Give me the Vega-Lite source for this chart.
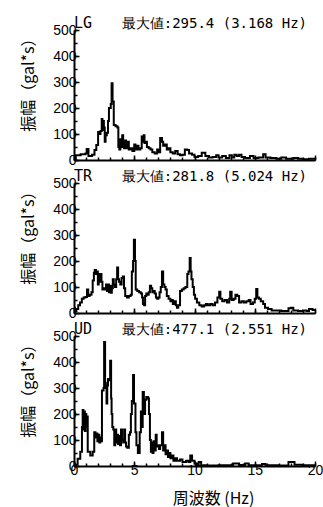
{
  "$schema": "https://vega.github.io/schema/vega-lite/v6.json",
  "background": "white",
  "padding": {"left": 20, "top": 16, "right": 5, "bottom": 5},
  "spacing": 23,
  "bounds": "flush",
  "config": {
    "view": {"stroke": null},
    "axis": {"grid": false, "domainColor": "black", "domainWidth": 2, "tickColor": "black", "tickWidth": 1.5, "labelColor": "black", "labelFont": "Liberation Sans", "labelFontSize": 14, "titleColor": "black", "titleFont": "Noto Sans CJK JP", "titleFontSize": 16, "titleFontWeight": "normal", "labelFlush": false, "labelOverlap": false},
    "text": {"fill": "black", "strokeWidth": 0}
  },
  "datasets": {
    "LG": [
      {"f":0,"a":3},{"f":0.15,"a":18},{"f":0.55,"a":22},{"f":0.95,"a":25},{"f":1.05,"a":42},{"f":1.2,"a":15},{"f":1.5,"a":20},{"f":1.7,"a":38},{"f":1.85,"a":58},{"f":2.0,"a":108},{"f":2.1,"a":100},{"f":2.2,"a":112},{"f":2.3,"a":158},{"f":2.36,"a":115},{"f":2.42,"a":150},{"f":2.48,"a":125},{"f":2.55,"a":70},{"f":2.62,"a":95},{"f":2.72,"a":105},{"f":2.82,"a":150},{"f":2.9,"a":200},{"f":3.05,"a":215},{"f":3.12,"a":295},{"f":3.2,"a":225},{"f":3.3,"a":135},{"f":3.45,"a":130},{"f":3.6,"a":125},{"f":3.68,"a":50},{"f":3.76,"a":40},{"f":3.85,"a":80},{"f":3.92,"a":50},{"f":4.0,"a":95},{"f":4.08,"a":60},{"f":4.15,"a":45},{"f":4.25,"a":75},{"f":4.32,"a":45},{"f":4.45,"a":70},{"f":4.55,"a":40},{"f":4.7,"a":45},{"f":4.85,"a":35},{"f":5.0,"a":60},{"f":5.1,"a":40},{"f":5.25,"a":55},{"f":5.35,"a":40},{"f":5.5,"a":45},{"f":5.62,"a":90},{"f":5.7,"a":70},{"f":5.78,"a":95},{"f":5.85,"a":65},{"f":5.95,"a":70},{"f":6.05,"a":50},{"f":6.2,"a":45},{"f":6.35,"a":40},{"f":6.5,"a":30},{"f":6.7,"a":25},{"f":6.9,"a":40},{"f":7.05,"a":30},{"f":7.15,"a":85},{"f":7.3,"a":70},{"f":7.4,"a":55},{"f":7.55,"a":60},{"f":7.7,"a":40},{"f":7.85,"a":45},{"f":8.0,"a":30},{"f":8.2,"a":25},{"f":8.4,"a":35},{"f":8.6,"a":22},{"f":8.8,"a":18},{"f":9.0,"a":20},{"f":9.2,"a":40},{"f":9.4,"a":38},{"f":9.55,"a":25},{"f":9.8,"a":20},{"f":10.0,"a":12},{"f":10.3,"a":15},{"f":10.6,"a":28},{"f":10.9,"a":15},{"f":11.2,"a":10},{"f":11.5,"a":12},{"f":11.8,"a":18},{"f":12.0,"a":10},{"f":12.3,"a":15},{"f":12.6,"a":8},{"f":12.9,"a":18},{"f":13.1,"a":10},{"f":13.3,"a":20},{"f":13.5,"a":15},{"f":13.7,"a":20},{"f":13.9,"a":12},{"f":14.2,"a":8},{"f":14.6,"a":15},{"f":14.9,"a":8},{"f":15.3,"a":10},{"f":15.7,"a":22},{"f":15.9,"a":10},{"f":16.3,"a":8},{"f":16.8,"a":5},{"f":17.2,"a":10},{"f":17.6,"a":5},{"f":18.2,"a":8},{"f":18.6,"a":5},{"f":19.0,"a":3},{"f":19.5,"a":5},{"f":20,"a":3}
    ],
    "TR": [
      {"f":0,"a":20},{"f":0.08,"a":8},{"f":0.2,"a":15},{"f":0.35,"a":30},{"f":0.5,"a":40},{"f":0.65,"a":55},{"f":0.8,"a":60},{"f":0.95,"a":62},{"f":1.08,"a":90},{"f":1.18,"a":65},{"f":1.3,"a":70},{"f":1.45,"a":80},{"f":1.55,"a":125},{"f":1.65,"a":155},{"f":1.72,"a":165},{"f":1.82,"a":150},{"f":1.9,"a":160},{"f":1.98,"a":110},{"f":2.05,"a":150},{"f":2.12,"a":120},{"f":2.2,"a":150},{"f":2.28,"a":120},{"f":2.36,"a":90},{"f":2.46,"a":95},{"f":2.56,"a":90},{"f":2.66,"a":110},{"f":2.74,"a":85},{"f":2.82,"a":110},{"f":2.9,"a":80},{"f":2.98,"a":105},{"f":3.06,"a":78},{"f":3.14,"a":95},{"f":3.22,"a":130},{"f":3.3,"a":110},{"f":3.4,"a":100},{"f":3.5,"a":130},{"f":3.58,"a":175},{"f":3.66,"a":130},{"f":3.74,"a":120},{"f":3.84,"a":110},{"f":3.95,"a":135},{"f":4.05,"a":140},{"f":4.15,"a":95},{"f":4.25,"a":65},{"f":4.4,"a":60},{"f":4.55,"a":65},{"f":4.7,"a":70},{"f":4.8,"a":160},{"f":4.9,"a":200},{"f":4.97,"a":282},{"f":5.06,"a":200},{"f":5.12,"a":90},{"f":5.25,"a":85},{"f":5.4,"a":80},{"f":5.55,"a":75},{"f":5.65,"a":60},{"f":5.72,"a":35},{"f":5.82,"a":30},{"f":5.9,"a":65},{"f":6.0,"a":75},{"f":6.1,"a":70},{"f":6.2,"a":80},{"f":6.3,"a":105},{"f":6.4,"a":95},{"f":6.5,"a":80},{"f":6.6,"a":85},{"f":6.7,"a":75},{"f":6.8,"a":60},{"f":6.9,"a":55},{"f":7.0,"a":60},{"f":7.1,"a":80},{"f":7.2,"a":100},{"f":7.3,"a":160},{"f":7.4,"a":110},{"f":7.5,"a":100},{"f":7.6,"a":90},{"f":7.7,"a":65},{"f":7.85,"a":55},{"f":8.0,"a":45},{"f":8.1,"a":50},{"f":8.2,"a":35},{"f":8.35,"a":45},{"f":8.45,"a":30},{"f":8.55,"a":20},{"f":8.65,"a":30},{"f":8.8,"a":85},{"f":8.95,"a":90},{"f":9.1,"a":95},{"f":9.25,"a":100},{"f":9.4,"a":150},{"f":9.5,"a":160},{"f":9.6,"a":212},{"f":9.68,"a":160},{"f":9.75,"a":130},{"f":9.85,"a":100},{"f":9.95,"a":70},{"f":10.05,"a":55},{"f":10.2,"a":40},{"f":10.4,"a":30},{"f":10.6,"a":25},{"f":10.8,"a":30},{"f":10.95,"a":35},{"f":11.1,"a":30},{"f":11.3,"a":35},{"f":11.5,"a":30},{"f":11.7,"a":40},{"f":11.9,"a":60},{"f":12.05,"a":82},{"f":12.15,"a":55},{"f":12.3,"a":45},{"f":12.5,"a":50},{"f":12.7,"a":40},{"f":12.88,"a":55},{"f":12.96,"a":82},{"f":13.08,"a":50},{"f":13.25,"a":55},{"f":13.4,"a":70},{"f":13.55,"a":65},{"f":13.7,"a":40},{"f":13.9,"a":45},{"f":14.1,"a":40},{"f":14.3,"a":45},{"f":14.5,"a":50},{"f":14.65,"a":35},{"f":14.85,"a":40},{"f":15.0,"a":55},{"f":15.12,"a":92},{"f":15.22,"a":60},{"f":15.35,"a":55},{"f":15.5,"a":45},{"f":15.7,"a":35},{"f":15.85,"a":20},{"f":16.1,"a":15},{"f":16.4,"a":10},{"f":16.9,"a":10},{"f":17.2,"a":8},{"f":17.5,"a":8},{"f":17.8,"a":18},{"f":18.0,"a":20},{"f":18.2,"a":10},{"f":18.6,"a":8},{"f":19.0,"a":10},{"f":19.3,"a":8},{"f":19.5,"a":15},{"f":19.8,"a":12},{"f":20,"a":12}
    ],
    "UD": [
      {"f":0,"a":5},{"f":0.3,"a":28},{"f":0.52,"a":55},{"f":0.66,"a":150},{"f":0.72,"a":215},{"f":0.78,"a":140},{"f":0.84,"a":210},{"f":0.9,"a":135},{"f":0.96,"a":200},{"f":1.02,"a":150},{"f":1.08,"a":190},{"f":1.14,"a":55},{"f":1.35,"a":40},{"f":1.55,"a":55},{"f":1.68,"a":130},{"f":1.78,"a":110},{"f":1.86,"a":125},{"f":1.94,"a":95},{"f":2.02,"a":120},{"f":2.1,"a":90},{"f":2.18,"a":110},{"f":2.26,"a":95},{"f":2.32,"a":290},{"f":2.45,"a":300},{"f":2.5,"a":477},{"f":2.58,"a":320},{"f":2.64,"a":300},{"f":2.7,"a":240},{"f":2.76,"a":310},{"f":2.82,"a":335},{"f":2.94,"a":330},{"f":3.0,"a":405},{"f":3.08,"a":260},{"f":3.12,"a":200},{"f":3.18,"a":150},{"f":3.26,"a":140},{"f":3.34,"a":80},{"f":3.42,"a":140},{"f":3.5,"a":90},{"f":3.58,"a":120},{"f":3.66,"a":85},{"f":3.74,"a":115},{"f":3.82,"a":80},{"f":3.9,"a":140},{"f":3.98,"a":100},{"f":4.08,"a":90},{"f":4.16,"a":140},{"f":4.24,"a":90},{"f":4.32,"a":75},{"f":4.42,"a":70},{"f":4.55,"a":120},{"f":4.65,"a":130},{"f":4.72,"a":200},{"f":4.8,"a":250},{"f":4.9,"a":350},{"f":4.98,"a":240},{"f":5.1,"a":130},{"f":5.18,"a":80},{"f":5.3,"a":50},{"f":5.45,"a":130},{"f":5.55,"a":210},{"f":5.62,"a":150},{"f":5.7,"a":285},{"f":5.8,"a":200},{"f":5.9,"a":255},{"f":6.0,"a":265},{"f":6.15,"a":260},{"f":6.22,"a":200},{"f":6.3,"a":100},{"f":6.38,"a":55},{"f":6.45,"a":90},{"f":6.52,"a":50},{"f":6.6,"a":95},{"f":6.68,"a":60},{"f":6.78,"a":120},{"f":6.86,"a":75},{"f":6.95,"a":80},{"f":7.05,"a":65},{"f":7.15,"a":80},{"f":7.3,"a":130},{"f":7.4,"a":60},{"f":7.5,"a":80},{"f":7.6,"a":45},{"f":7.7,"a":60},{"f":7.8,"a":35},{"f":7.9,"a":50},{"f":8.0,"a":30},{"f":8.1,"a":40},{"f":8.25,"a":20},{"f":8.4,"a":30},{"f":8.55,"a":20},{"f":8.8,"a":25},{"f":9.0,"a":15},{"f":9.3,"a":20},{"f":9.5,"a":15},{"f":9.65,"a":40},{"f":9.8,"a":20},{"f":10.0,"a":10},{"f":10.2,"a":3},{"f":10.35,"a":15},{"f":10.55,"a":3},{"f":11.0,"a":2},{"f":12.0,"a":3},{"f":12.8,"a":3},{"f":13.2,"a":10},{"f":13.7,"a":4},{"f":14.0,"a":3},{"f":14.2,"a":10},{"f":14.5,"a":3},{"f":15.3,"a":3},{"f":15.6,"a":8},{"f":15.9,"a":3},{"f":17.0,"a":2},{"f":17.8,"a":15},{"f":18.3,"a":5},{"f":19,"a":3},{"f":20,"a":3}
    ]
  },
  "vconcat": [
    {
      "width": 241, "height": 130,
      "resolve": {"axis": {"x": "independent", "y": "independent"}},
      "layer": [
        {"data": {"name": "LG"},
         "mark": {"type": "line", "interpolate": "step-after", "color": "black", "strokeWidth": 2},
         "encoding": {
           "x": {"field": "f", "type": "quantitative", "scale": {"domain": [0, 20], "nice": false}, "axis": {"orient": "bottom", "values": [0,5,10,15,20], "labels": false, "title": null, "tickSize": -5}},
           "y": {"field": "a", "type": "quantitative", "scale": {"domain": [0, 500], "nice": false}, "axis": {"orient": "left", "values": [0,100,200,300,400,500], "tickSize": -5, "labelPadding": 3, "title": "振幅（gal*s）", "titleAnchor": "end", "titlePadding": 16}}
         }},
        {"data": {"values": [{"label": "LG"}]},
         "mark": {"type": "text", "align": "left", "baseline": "alphabetic", "dy": -2, "font": "DejaVu Sans Mono", "fontSize": 15},
         "encoding": {"x": {"datum": 0, "type": "quantitative", "axis": {"orient": "bottom", "values": [0,1,2,3,4,5,6,7,8,9,10,11,12,13,14,15,16,17,18,19,20], "labels": false, "domain": false, "title": null, "tickSize": -3}}, "y": {"datum": 500, "type": "quantitative", "axis": {"orient": "left", "values": [0,50,100,150,200,250,300,350,400,450,500], "labels": false, "domain": false, "title": null, "tickSize": -3}}, "text": {"field": "label"}}},
        {"data": {"values": [{"label": "最大値:295.4 (3.168 Hz)"}]},
         "mark": {"type": "text", "align": "right", "baseline": "alphabetic", "dy": -2, "dx": -8, "font": "DejaVu Sans Mono", "fontSize": 14},
         "encoding": {"x": {"datum": 20, "type": "quantitative", "axis": null}, "y": {"datum": 500, "type": "quantitative", "axis": null}, "text": {"field": "label"}}}
      ]
    },
    {
      "width": 241, "height": 130,
      "resolve": {"axis": {"x": "independent", "y": "independent"}},
      "layer": [
        {"data": {"name": "TR"},
         "mark": {"type": "line", "interpolate": "step-after", "color": "black", "strokeWidth": 2},
         "encoding": {
           "x": {"field": "f", "type": "quantitative", "scale": {"domain": [0, 20], "nice": false}, "axis": {"orient": "bottom", "values": [0,5,10,15,20], "labels": false, "title": null, "tickSize": -5}},
           "y": {"field": "a", "type": "quantitative", "scale": {"domain": [0, 500], "nice": false}, "axis": {"orient": "left", "values": [0,100,200,300,400,500], "tickSize": -5, "labelPadding": 3, "title": "振幅（gal*s）", "titleAnchor": "end", "titlePadding": 16}}
         }},
        {"data": {"values": [{"label": "TR"}]},
         "mark": {"type": "text", "align": "left", "baseline": "alphabetic", "dy": -2, "font": "DejaVu Sans Mono", "fontSize": 15},
         "encoding": {"x": {"datum": 0, "type": "quantitative", "axis": {"orient": "bottom", "values": [0,1,2,3,4,5,6,7,8,9,10,11,12,13,14,15,16,17,18,19,20], "labels": false, "domain": false, "title": null, "tickSize": -3}}, "y": {"datum": 500, "type": "quantitative", "axis": {"orient": "left", "values": [0,50,100,150,200,250,300,350,400,450,500], "labels": false, "domain": false, "title": null, "tickSize": -3}}, "text": {"field": "label"}}},
        {"data": {"values": [{"label": "最大値:281.8 (5.024 Hz)"}]},
         "mark": {"type": "text", "align": "right", "baseline": "alphabetic", "dy": -2, "dx": -8, "font": "DejaVu Sans Mono", "fontSize": 14},
         "encoding": {"x": {"datum": 20, "type": "quantitative", "axis": null}, "y": {"datum": 500, "type": "quantitative", "axis": null}, "text": {"field": "label"}}}
      ]
    },
    {
      "width": 241, "height": 130,
      "resolve": {"axis": {"x": "independent", "y": "independent"}},
      "layer": [
        {"data": {"name": "UD"},
         "mark": {"type": "line", "interpolate": "step-after", "color": "black", "strokeWidth": 2},
         "encoding": {
           "x": {"field": "f", "type": "quantitative", "scale": {"domain": [0, 20], "nice": false}, "axis": {"orient": "bottom", "values": [0,5,10,15,20], "tickSize": -5, "labelPadding": 2, "title": "周波数 (Hz)", "titlePadding": 13, "titleX": 139}},
           "y": {"field": "a", "type": "quantitative", "scale": {"domain": [0, 500], "nice": false}, "axis": {"orient": "left", "values": [0,100,200,300,400,500], "tickSize": -5, "labelPadding": 3, "title": "振幅（gal*s）", "titleAnchor": "end", "titlePadding": 16}}
         }},
        {"data": {"values": [{"label": "UD"}]},
         "mark": {"type": "text", "align": "left", "baseline": "alphabetic", "dy": -2, "font": "DejaVu Sans Mono", "fontSize": 15},
         "encoding": {"x": {"datum": 0, "type": "quantitative", "axis": {"orient": "bottom", "values": [0,1,2,3,4,5,6,7,8,9,10,11,12,13,14,15,16,17,18,19,20], "labels": false, "domain": false, "title": null, "tickSize": -3}}, "y": {"datum": 500, "type": "quantitative", "axis": {"orient": "left", "values": [0,50,100,150,200,250,300,350,400,450,500], "labels": false, "domain": false, "title": null, "tickSize": -3}}, "text": {"field": "label"}}},
        {"data": {"values": [{"label": "最大値:477.1 (2.551 Hz)"}]},
         "mark": {"type": "text", "align": "right", "baseline": "alphabetic", "dy": -2, "dx": -8, "font": "DejaVu Sans Mono", "fontSize": 14},
         "encoding": {"x": {"datum": 20, "type": "quantitative", "axis": null}, "y": {"datum": 500, "type": "quantitative", "axis": null}, "text": {"field": "label"}}}
      ]
    }
  ]
}
